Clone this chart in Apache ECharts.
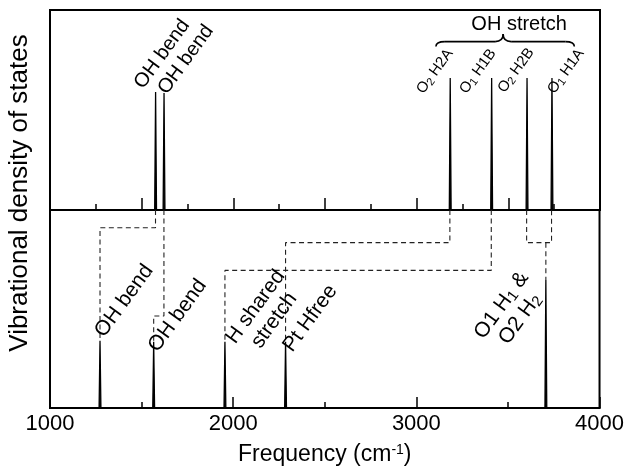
<!DOCTYPE html>
<html><head><meta charset="utf-8">
<script src="https://cdn.jsdelivr.net/npm/echarts@6/dist/echarts.min.js"></script>
<style>html,body{margin:0;padding:0;background:#fff}#c{width:627px;height:468px}</style>
</head><body><div id="c"></div>
<script>
// ---------------- data ----------------
const xMin = 1000, xMax = 4000;
const topTickStep = 500, bottomTickStep = 1000;
// upper panel (isolated) peaks, cm-1 and relative intensity
const topFreq   = [1576, 1622, 3183, 3409, 3602, 3738];
const topHeight = [59, 58.5, 66, 66, 66, 66];
const topText   = ['OH bend', 'OH bend', '{o|O}{s|2}{o| H2A}', '{o|O}{s|1}{o| H1B}', '{o|O}{s|2}{o| H2B}', '{o|O}{s|1}{o| H1A}'];
// lower panel peaks
const bottomFreq   = [1273, 1566, 1955, 2286, 3707];
const bottomHeight = [34, 33.5, 33.5, 33.5, 64.6];
const bottomText   = ['OH bend', 'OH bend', 'H shared\nstretch', 'Pt Hfree', '{b|O1 H}{t|1}{b| &}\n{b|O2 H}{t|2}'];
// correlation lines: upper peak index(es) -> lower peak index, at a level of the lower panel
const connTop    = [[0], [1], [2], [3], [4, 5]];
const connBottom = [0, 1, 3, 2, 4];
const connLevel  = [91, 46.5, 83.5, 69.5, 83.5];
// group bracket over the stretch peaks
const groupTitle = 'OH stretch';
const groupSpan  = [3105, 3860];
const xTitle = 'Frequency (cm{sup|-1})';
const yTitle = 'Vibrational density of states';

// ---------------- layout / style ----------------
const FONT = "'Liberation Sans', Arial, Helvetica, sans-serif";
const ANG = 54 * Math.PI / 180;
const PEAK_HALF = 5;
const topLabelPos = [[-17, -5.6, 20], [-1.8, -0.9, 20], [-30.3, 14.1, 15], [-28.7, 14.1, 15], [-26, 13.1, 15], [-1, 14.1, 15]];
const bottomLabelPos = [[-0.6, -5.8, 21, 'left'], [-0.8, 8, 21, 'left'], [40, -28, 21, 'center'], [2, 7.9, 21, 'left'], [-35, 32, 21, 'center']];

function spikes(freq, h) {
  const idx = freq.map((f, i) => i).sort((a, b) => freq[a] - freq[b]);
  const out = [[xMin, 0]];
  idx.forEach(i => { out.push([freq[i] - PEAK_HALF, 0], [freq[i], h[i]], [freq[i] + PEAK_HALF, 0]); });
  out.push([xMax, 0]);
  return out;
}

const chart = echarts.init(document.getElementById('c'), null, {renderer: 'canvas'});
const gridStyle = {show: true, borderColor: '#000', borderWidth: 2, backgroundColor: 'transparent'};
const connSeries = [];
connTop.forEach((tops, k) => {
  const L = connLevel[k];
  const b = connBottom[k];
  if (tops.length === 1) {
    const f = topFreq[tops[0]];
    connSeries.push([[f, 100], [f, L], [bottomFreq[b], L], [bottomFreq[b], bottomHeight[b]]]);
  } else {
    const f1 = topFreq[tops[0]], f2 = topFreq[tops[1]];
    connSeries.push([[f1, 100], [f1, L], [f2, L], [f2, 100]]);
    connSeries.push([[bottomFreq[b], L], [bottomFreq[b], bottomHeight[b]]]);
  }
});

const option = {
  animation: false,
  backgroundColor: '#fff',
  grid: [
    Object.assign({left: 50, right: 27, top: 10, height: 200}, gridStyle),
    Object.assign({left: 50, right: 27, top: 210, height: 198}, gridStyle)
  ],
  xAxis: [
    {gridIndex: 0, type: 'value', min: xMin, max: xMax, interval: topTickStep,
     axisLine: {lineStyle: {color: '#000', width: 2}},
     axisTick: {inside: true, length: 12, lineStyle: {color: '#000', width: 1.5}},
     minorTick: {show: true, splitNumber: 2, length: 6, lineStyle: {color: '#000', width: 1.5}},
     axisLabel: {show: false}, splitLine: {show: false}},
    {gridIndex: 1, type: 'value', min: xMin, max: xMax, interval: bottomTickStep,
     axisLine: {lineStyle: {color: '#000', width: 2}},
     axisTick: {inside: true, length: 11, lineStyle: {color: '#000', width: 1.5}},
     minorTick: {show: true, splitNumber: 2, length: 6, lineStyle: {color: '#000', width: 1.5}},
     axisLabel: {color: '#000', fontSize: 22, fontFamily: FONT, margin: 5, formatter: v => String(v)},
     splitLine: {show: false},
     name: xTitle, nameLocation: 'middle', nameGap: 35,
     nameTextStyle: {color: '#000', fontSize: 23, fontFamily: FONT,
       rich: {sup: {fontSize: 14, fontFamily: FONT, color: '#000', verticalAlign: 'top'}}}}
  ],
  yAxis: [
    {gridIndex: 0, type: 'value', min: 0, max: 100, show: false},
    {gridIndex: 1, type: 'value', min: 0, max: 100, show: false}
  ],
  series: [
    {type: 'line', xAxisIndex: 0, yAxisIndex: 0, data: spikes(topFreq, topHeight), symbol: 'none', z: 5,
     lineStyle: {color: '#000', width: 1.3}, areaStyle: {color: '#000', opacity: 1}},
    {type: 'line', xAxisIndex: 1, yAxisIndex: 1, data: spikes(bottomFreq, bottomHeight), symbol: 'none', z: 5,
     lineStyle: {color: '#000', width: 1.3}, areaStyle: {color: '#000', opacity: 1}}
  ].concat(connSeries.map(d => ({type: 'line', xAxisIndex: 1, yAxisIndex: 1, data: d, symbol: 'none', z: 3,
     lineStyle: {color: '#222', width: 1.1, type: [5, 3.5]}})))
};
chart.setOption(option);

function rich(fs) {
  return {
    o: {fontSize: fs, fontFamily: FONT, fill: '#000', color: '#000'},
    s: {fontSize: Math.round(fs * 0.7), fontFamily: FONT, fill: '#000', color: '#000', verticalAlign: 'bottom'},
    b: {fontSize: fs, fontFamily: FONT, fill: '#000', color: '#000', lineHeight: fs + 2},
    t: {fontSize: Math.round(fs * 0.7), fontFamily: FONT, fill: '#000', color: '#000', verticalAlign: 'bottom', lineHeight: fs + 2}
  };
}
function label(p, pos, text) {
  const fs = pos[2];
  return {type: 'text', x: p[0] + pos[0], y: p[1] + pos[1], rotation: ANG, z: 20,
    style: {text: text, fontSize: fs, fontFamily: FONT, fill: '#000', align: pos[3] || 'left',
      verticalAlign: 'middle', lineHeight: fs + 2, rich: rich(fs)}};
}
const g = [];
topFreq.forEach((f, i) => g.push(label(chart.convertToPixel({gridIndex: 0}, [f, topHeight[i]]), topLabelPos[i], topText[i])));
bottomFreq.forEach((f, i) => g.push(label(chart.convertToPixel({gridIndex: 1}, [f, bottomHeight[i]]), bottomLabelPos[i], bottomText[i])));
// bracket
const pl = chart.convertToPixel({gridIndex: 0}, [groupSpan[0], 81.7]);
const pr = chart.convertToPixel({gridIndex: 0}, [groupSpan[1], 81.7]);
const lineY = pl[1] - 5, cx = (pl[0] + pr[0]) / 2 - 2, cuspY = lineY - 7.5;
const bs = {fill: null, stroke: '#000', lineWidth: 1.6};
function q(x1, y1, cx1, cy1, x2, y2) {
  return {type: 'bezierCurve', shape: {x1: x1, y1: y1, cpx1: cx1, cpy1: cy1, x2: x2, y2: y2}, style: bs, z: 20};
}
function ln(x1, y1, x2, y2) {
  return {type: 'line', shape: {x1: x1, y1: y1, x2: x2, y2: y2}, style: bs, z: 20};
}
g.push(q(pl[0], pl[1], pl[0], lineY, pl[0] + 9, lineY));
g.push(ln(pl[0] + 9, lineY, cx - 8, lineY));
g.push(q(cx - 8, lineY, cx, lineY, cx, cuspY));
g.push(q(cx, cuspY, cx, lineY, cx + 8, lineY));
g.push(ln(cx + 8, lineY, pr[0] - 9, lineY));
g.push(q(pr[0] - 9, lineY, pr[0], lineY, pr[0], pr[1]));
const tp = chart.convertToPixel({gridIndex: 0}, [(groupSpan[0] + groupSpan[1]) / 2, 92.8]);
g.push({type: 'text', x: tp[0] + 14, y: tp[1], z: 20,
  style: {text: groupTitle, fontSize: 20, fontFamily: FONT, fill: '#000', align: 'center', verticalAlign: 'middle'}});
g.push({type: 'text', x: 20, y: 193, rotation: Math.PI / 2, z: 20,
  style: {text: yTitle, fontSize: 26, fontFamily: FONT, fill: '#000', align: 'center', verticalAlign: 'middle'}});
chart.setOption({graphic: g});
</script></body></html>
